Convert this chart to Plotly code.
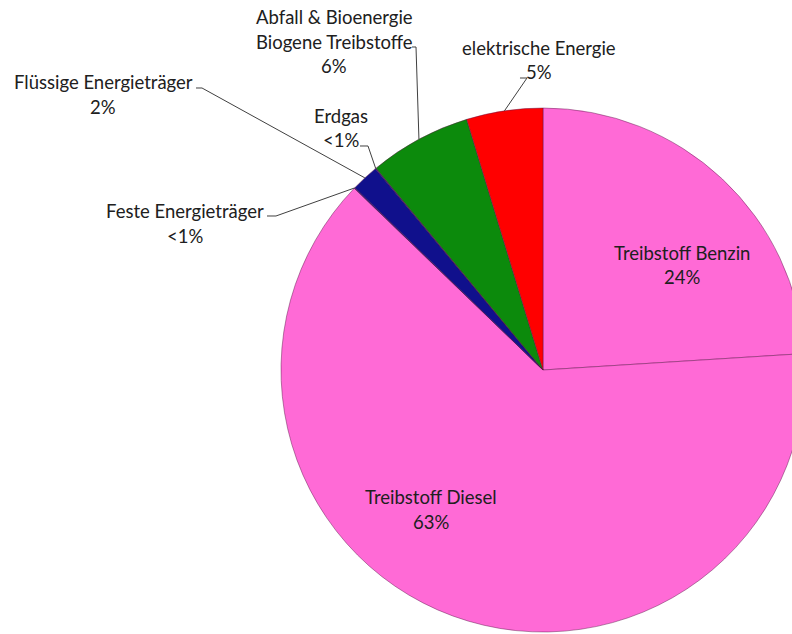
import math
import plotly.graph_objects as go

# ---------------- data ----------------
categories = ["Treibstoff Benzin", "Treibstoff Diesel", "Feste Energieträger",
              "Flüssige Energieträger", "Erdgas",
              "Abfall & Bioenergie Biogene Treibstoffe", "elektrische Energie"]
label_lines = [["Treibstoff Benzin"], ["Treibstoff Diesel"], ["Feste Energieträger"],
               ["Flüssige Energieträger"], ["Erdgas"],
               ["Abfall & Bioenergie", "Biogene Treibstoffe"], ["elektrische Energie"]]
values = [24.0, 63.2, 0.05, 1.7, 0.05, 6.3, 4.7]
pct_labels = ["24%", "63%", "<1%", "2%", "<1%", "6%", "5%"]
colors = ["#FF6AD6", "#FF6AD6", "#10108C", "#10108C", "#10108C", "#0C8A0C", "#FF0000"]

# ---------------- layout geometry (px) ----------------
W, H = 806, 634
CX, CY, R = 543, 370, 262
# label text anchor: centre x, first-line centre y
label_pos = [(682, 253), (431, 497), (185, 211), (103, 82), (341, 116), (334, 17), (539, 48)]
# leader line start (label side) for outside labels: list of points, None for inside labels
leader_start = [None, None,
                [(267, 216), (276, 216)],
                [(196, 88), (202, 88)],
                [(360, 146), (368, 146)],
                [(412, 47), (416, 47)],
                [(520, 78), (527, 78)]]
LINE_H = 24.5


def px(x, y):
    return x / W, 1 - y / H


fig = go.Figure(go.Pie(
    labels=categories,
    values=values,
    sort=False,
    direction="clockwise",
    rotation=0,
    textinfo="none",
    hoverinfo="label+percent",
    marker=dict(colors=colors, line=dict(color="rgba(90,20,70,0.45)", width=1)),
    domain=dict(x=[(CX - R) / W, (CX + R) / W], y=[(H - CY - R) / H, (H - CY + R) / H]),
    showlegend=False,
))

annotations = []
shapes = []
total = sum(values)
cum = 0.0
for i, v in enumerate(values):
    mid = (cum + v / 2) / total * 2 * math.pi
    cum += v
    lx, ly = label_pos[i]
    lines = label_lines[i] + [pct_labels[i]]
    for k, t in enumerate(lines):
        xx, yy = px(lx, ly + k * LINE_H)
        annotations.append(dict(x=xx, y=yy, xref="paper", yref="paper", text=t,
                                showarrow=False, xanchor="center", yanchor="middle",
                                font=dict(family="Lato, Carlito, sans-serif", size=18.5, color="#202020")))
    if leader_start[i] is not None:
        pts = list(leader_start[i])
        ex = CX + R * math.sin(mid)
        ey = CY - R * math.cos(mid)
        pts.append((ex, ey))
        path = "M " + " L ".join(f"{px(a, b)[0]:.5f},{px(a, b)[1]:.5f}" for a, b in pts)
        shapes.append(dict(type="path", path=path, xref="paper", yref="paper",
                           line=dict(color="#404040", width=1)))

fig.update_layout(
    width=W, height=H,
    margin=dict(l=0, r=0, t=0, b=0),
    paper_bgcolor="white",
    plot_bgcolor="white",
    annotations=annotations,
    shapes=shapes,
)

fig.write_html("out.html",
               config={"displayModeBar": False},
               post_script="document.body.style.margin='0';"
                           "document.documentElement.style.overflow='hidden';"
                           "document.body.style.overflow='hidden';")
